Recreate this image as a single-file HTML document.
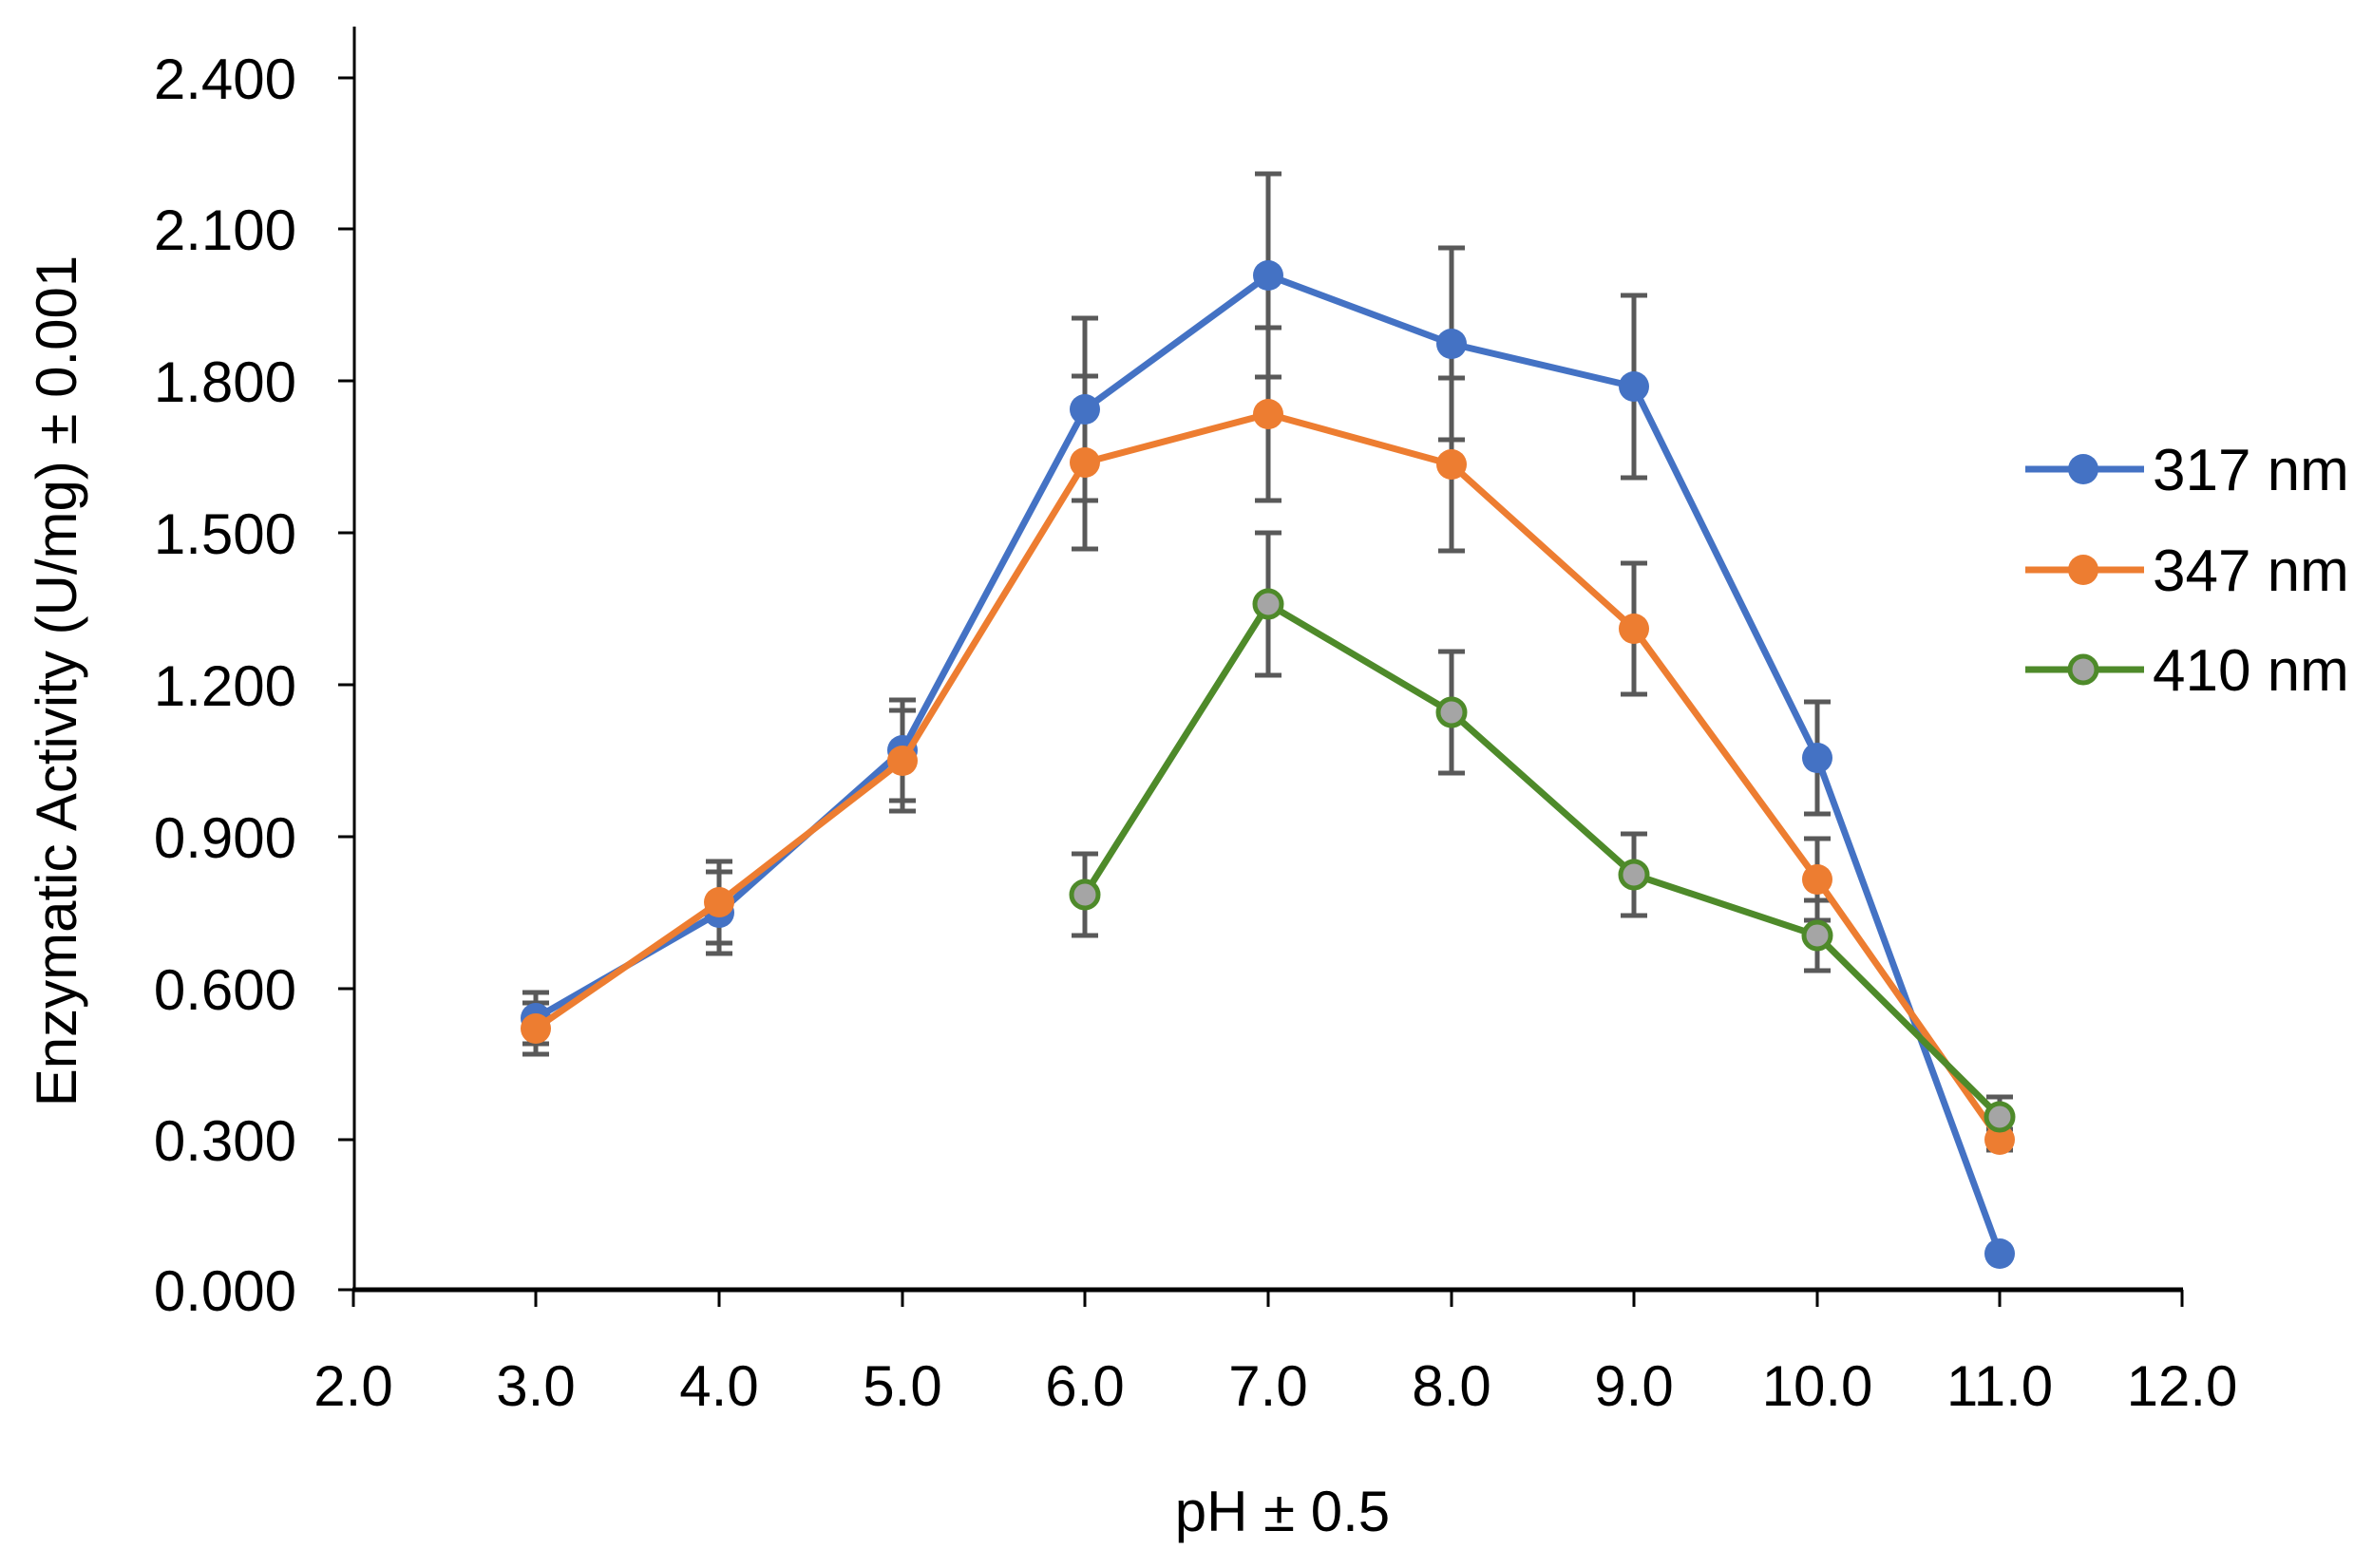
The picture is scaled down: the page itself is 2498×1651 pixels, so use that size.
<!DOCTYPE html>
<html><head><meta charset="utf-8"><style>html,body{margin:0;padding:0;background:#fff}svg{display:block}</style></head>
<body>
<svg width="2498" height="1651" viewBox="0 0 2498 1651" xmlns="http://www.w3.org/2000/svg" font-family="Liberation Sans, sans-serif">
<rect width="2498" height="1651" fill="#fff"/>
<line x1="373" y1="28" x2="373" y2="1358" stroke="#000" stroke-width="3"/>
<line x1="371" y1="1358" x2="2298" y2="1358" stroke="#000" stroke-width="5"/>
<g stroke="#000" stroke-width="3">
<line x1="356" y1="1358" x2="373" y2="1358"/><line x1="356" y1="1200" x2="373" y2="1200"/><line x1="356" y1="1041" x2="373" y2="1041"/><line x1="356" y1="881" x2="373" y2="881"/><line x1="356" y1="721" x2="373" y2="721"/><line x1="356" y1="561" x2="373" y2="561"/><line x1="356" y1="401" x2="373" y2="401"/><line x1="356" y1="241" x2="373" y2="241"/><line x1="356" y1="82" x2="373" y2="82"/>
<line x1="372" y1="1358" x2="372" y2="1376"/><line x1="564" y1="1358" x2="564" y2="1376"/><line x1="757" y1="1358" x2="757" y2="1376"/><line x1="950" y1="1358" x2="950" y2="1376"/><line x1="1142" y1="1358" x2="1142" y2="1376"/><line x1="1335" y1="1358" x2="1335" y2="1376"/><line x1="1528" y1="1358" x2="1528" y2="1376"/><line x1="1720" y1="1358" x2="1720" y2="1376"/><line x1="1913" y1="1358" x2="1913" y2="1376"/><line x1="2105" y1="1358" x2="2105" y2="1376"/><line x1="2297" y1="1358" x2="2297" y2="1376"/>
</g>
<g font-size="60" fill="#000" text-anchor="end">
<text x="312" y="1380">0.000</text><text x="312" y="1222">0.300</text><text x="312" y="1063">0.600</text><text x="312" y="903">0.900</text><text x="312" y="743">1.200</text><text x="312" y="583">1.500</text><text x="312" y="423">1.800</text><text x="312" y="263">2.100</text><text x="312" y="104">2.400</text>
</g>
<g font-size="60" fill="#000" text-anchor="middle">
<text x="372" y="1480">2.0</text><text x="564" y="1480">3.0</text><text x="757" y="1480">4.0</text><text x="950" y="1480">5.0</text><text x="1142" y="1480">6.0</text><text x="1335" y="1480">7.0</text><text x="1528" y="1480">8.0</text><text x="1720" y="1480">9.0</text><text x="1913" y="1480">10.0</text><text x="2105" y="1480">11.0</text><text x="2297" y="1480">12.0</text>
</g>
<text x="1350" y="1612" font-size="60" text-anchor="middle">pH ± 0.5</text>
<text transform="translate(80,717) rotate(-90)" font-size="60" text-anchor="middle">Enzymatic Activity (U/mg) ± 0.001</text>
<g stroke="#595959" stroke-width="5" fill="none">
<path d="M564 1045V1099M550 1045H578M550 1099H578 M757 918V1004M743 918H771M743 1004H771 M950 737V843M936 737H964M936 843H964 M1142 335V527M1128 335H1156M1128 527H1156 M1335 183V397M1321 183H1349M1321 397H1349 M1528 261V463M1514 261H1542M1514 463H1542 M1720 311V503M1706 311H1734M1706 503H1734 M1913 739V857M1899 739H1927M1899 857H1927"/>
<path d="M564 1056V1110M550 1056H578M550 1110H578 M757 907V993M743 907H771M743 993H771 M950 748V854M936 748H964M936 854H964 M1142 396V578M1128 396H1156M1128 578H1156 M1335 345V527M1321 345H1349M1321 527H1349 M1528 398V580M1514 398H1542M1514 580H1542 M1720 593V731M1706 593H1734M1706 731H1734 M1913 883V969M1899 883H1927M1899 969H1927 M2105 1189V1211M2091 1189H2119M2091 1211H2119"/>
<path d="M1142 899V985M1128 899H1156M1128 985H1156 M1335 561V711M1321 561H1349M1321 711H1349 M1528 686V814M1514 686H1542M1514 814H1542 M1720 878V964M1706 878H1734M1706 964H1734 M1913 948V1022M1899 948H1927M1899 1022H1927 M2105 1155V1197M2091 1155H2119M2091 1197H2119"/>
</g>
<polyline fill="none" stroke="#4472C4" stroke-width="7" points="564,1072 757,961 950,790 1142,431 1335,290 1528,362 1720,407 1913,798 2105,1320"/>
<g fill="#4472C4"><circle cx="564" cy="1072" r="16"/><circle cx="757" cy="961" r="16"/><circle cx="950" cy="790" r="16"/><circle cx="1142" cy="431" r="16"/><circle cx="1335" cy="290" r="16"/><circle cx="1528" cy="362" r="16"/><circle cx="1720" cy="407" r="16"/><circle cx="1913" cy="798" r="16"/><circle cx="2105" cy="1320" r="16"/></g>
<polyline fill="none" stroke="#ED7D31" stroke-width="7" points="564,1083 757,950 950,801 1142,487 1335,436 1528,489 1720,662 1913,926 2105,1200"/>
<g fill="#ED7D31"><circle cx="564" cy="1083" r="16"/><circle cx="757" cy="950" r="16"/><circle cx="950" cy="801" r="16"/><circle cx="1142" cy="487" r="16"/><circle cx="1335" cy="436" r="16"/><circle cx="1528" cy="489" r="16"/><circle cx="1720" cy="662" r="16"/><circle cx="1913" cy="926" r="16"/><circle cx="2105" cy="1200" r="16"/></g>
<polyline fill="none" stroke="#4E8A2A" stroke-width="7" points="1142,942 1335,636 1528,750 1720,921 1913,985 2105,1176"/>
<g fill="#A5A5A5" stroke="#4E8A2A" stroke-width="5"><circle cx="1142" cy="942" r="14"/><circle cx="1335" cy="636" r="14"/><circle cx="1528" cy="750" r="14"/><circle cx="1720" cy="921" r="14"/><circle cx="1913" cy="985" r="14"/><circle cx="2105" cy="1176" r="14"/></g>
<line x1="2132" y1="494" x2="2257" y2="494" stroke="#4472C4" stroke-width="7"/><circle cx="2193" cy="494" r="16" fill="#4472C4"/>
<line x1="2132" y1="600" x2="2257" y2="600" stroke="#ED7D31" stroke-width="7"/><circle cx="2193" cy="600" r="16" fill="#ED7D31"/>
<line x1="2132" y1="705" x2="2257" y2="705" stroke="#4E8A2A" stroke-width="7"/><circle cx="2193" cy="705" r="14" fill="#A5A5A5" stroke="#4E8A2A" stroke-width="5"/>
<g font-size="62" fill="#000"><text x="2266" y="516">317 nm</text><text x="2266" y="622">347 nm</text><text x="2266" y="727">410 nm</text></g>
</svg>
</body></html>
